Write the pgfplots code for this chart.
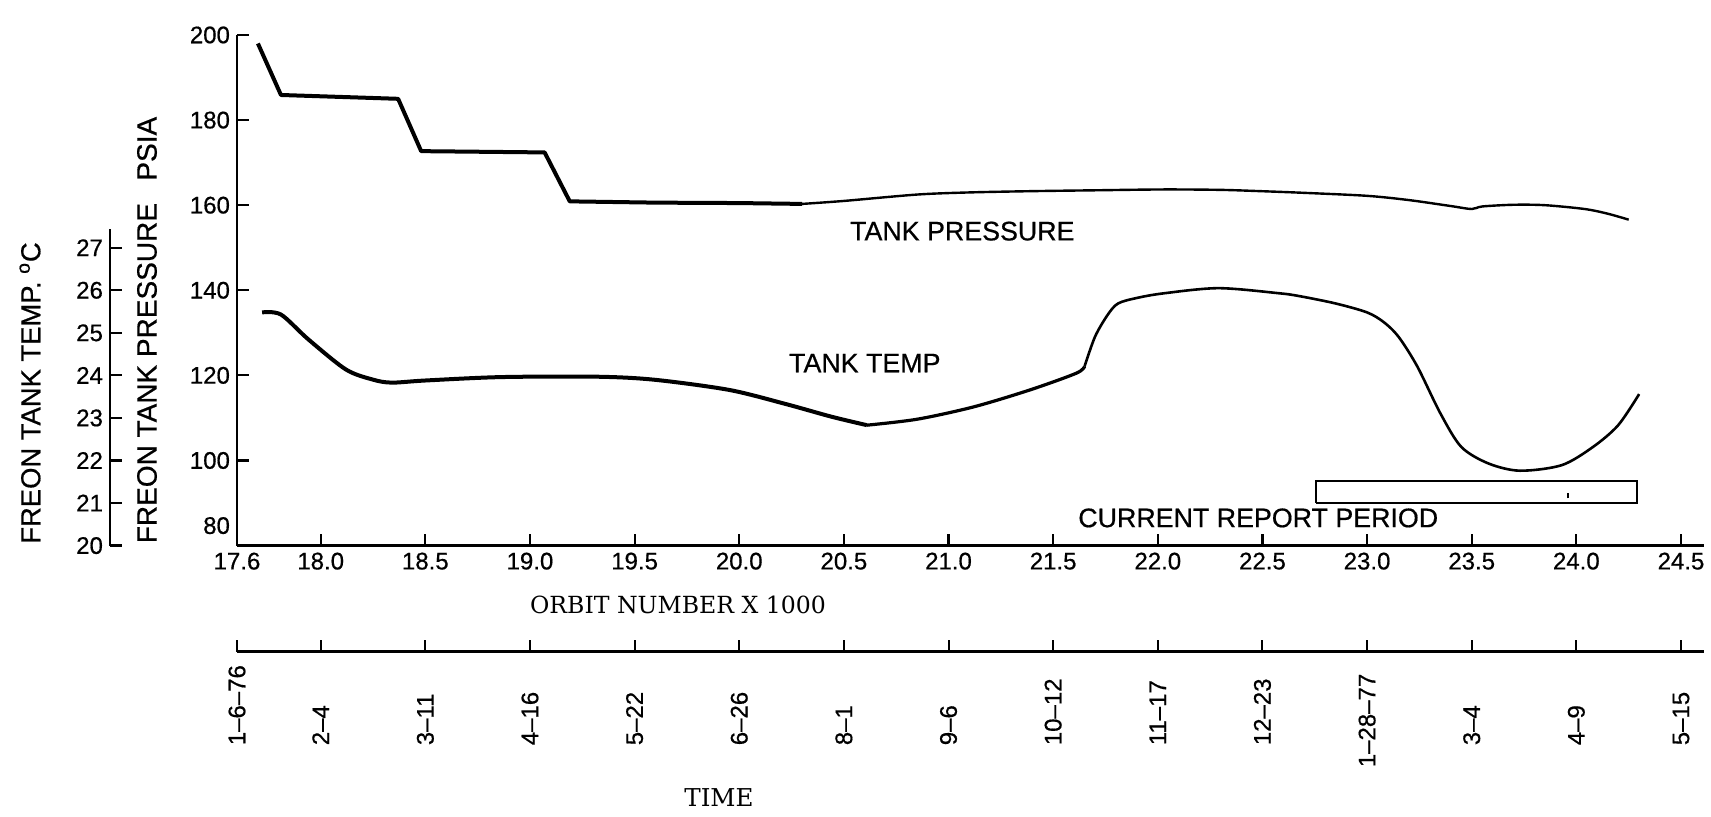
\documentclass[border=0pt]{standalone}
\usepackage{pgfplots}
\pgfplotsset{compat=1.18}
\usepackage{fontspec}
\setmainfont{Liberation Sans}[FakeBold=0.6]
\newfontfamily\slabfont{DejaVu Serif}
\newcommand{\tk}{\fontsize{12}{14}\selectfont}
\newcommand{\lb}{\fontsize{13.4}{16}\selectfont}
\begin{document}
\begin{tikzpicture}
\useasboundingbox (-118.5pt,-135.7pt) rectangle (737pt,272.8pt);
% main axis: orbit vs pressure
\begin{axis}[
  at={(0pt,0pt)}, anchor=south west,
  scale only axis, width=733.5pt, height=255.3pt,
  xmin=17.6, xmax=24.61, ymin=80, ymax=200,
  axis x line=bottom, axis y line=left,
  axis line style={-, line width=1.3pt, black},
  tick align=inside, major tick length=6pt,
  every tick/.style={black, line width=1.1pt},
  xtick={17.6,18,18.5,19,19.5,20,20.5,21,21.5,22,22.5,23,23.5,24,24.5},
  xticklabels={17.6,18.0,18.5,19.0,19.5,20.0,20.5,21.0,21.5,22.0,22.5,23.0,23.5,24.0,24.5},
  ytick={100,120,140,160,180,200},
  yticklabels={100,120,140,160,180,200},
  extra y ticks={80}, extra y tick labels={80},
  extra y tick style={yticklabel style={yshift=10pt}},
  ticklabel style={font=\tk},
  clip=false,
]
% tank pressure, stepped part
\addplot[black, line width=2pt, line join=round] coordinates {
(17.70,198.0) (17.81,185.9) (18.37,185.0) (18.48,172.7) (19.07,172.4)
(19.19,160.9) (19.6,160.6) (20.0,160.5) (20.3,160.3)};
% tank pressure, later part
\addplot[black, line width=1.2pt, smooth] coordinates {
(20.3,160.3) (20.5,161.0) (20.85,162.5) (21.1,163.0) (21.4,163.3) (21.7,163.5)
(22.03,163.7) (22.3,163.6) (22.49,163.3) (22.7,162.9) (23.0,162.2) (23.2,161.2)
(23.4,159.8) (23.5,159.1) (23.55,159.7) (23.7,160.1) (23.85,160.0) (24.04,159.1)
(24.15,158.0) (24.25,156.6)};
% tank temperature (plotted on pressure scale: 10 psia per deg C)
\addplot[black, line width=2pt, smooth] coordinates {
(17.72,134.8) (17.81,134.3) (17.94,128.5) (18.12,121.4) (18.25,119.0) (18.34,118.3)
(18.5,118.8) (18.86,119.6) (19.31,119.7) (19.59,119.0) (19.95,116.6) (20.22,113.3)
(20.44,110.3) (20.61,108.3)};
\addplot[black, line width=1.6pt, smooth] coordinates {
(20.61,108.3) (20.85,109.7) (21.12,112.6) (21.39,116.6) (21.61,120.5) (21.65,122.1)};
\addplot[black, line width=1.3pt, smooth] coordinates {
(21.65,122.1) (21.70,129.1) (21.76,134.2) (21.81,136.9) (21.9,138.2) (22.03,139.3)
(22.29,140.5) (22.58,139.3) (22.68,138.6) (22.85,136.9) (23.0,134.8) (23.08,132.5)
(23.15,129.1) (23.24,122.1) (23.35,111.1) (23.45,103.2) (23.58,99.3) (23.73,97.6)
(23.93,98.9) (24.08,103.2) (24.20,108.3) (24.30,115.6)};
% current report period box
\addplot[black, line width=1.1pt] coordinates {
(22.755,90.0) (24.29,90.0) (24.29,95.2) (22.755,95.2) (22.755,90.0)};
\addplot[black, line width=0.7pt] coordinates {(23.96,91.1) (23.96,92.4)};
\node[font=\lb] at (axis cs:21.066,153.9) {TANK PRESSURE};
\node[font=\lb] at (axis cs:20.60,122.9) {TANK TEMP};
\node[font=\lb] at (axis cs:22.48,86.5) {CURRENT REPORT PERIOD};
\end{axis}
% temperature scale
\begin{axis}[
  at={(-63.5pt,0pt)}, anchor=south west,
  scale only axis, width=10pt, height=158.5pt,
  xmin=0, xmax=1, ymin=20, ymax=27.45,
  axis y line=left, axis x line=none,
  axis line style={-, line width=1.3pt, black},
  tick align=inside, major tick length=6pt,
  every tick/.style={black, line width=1.1pt},
  ytick={20,21,22,23,24,25,26,27},
  yticklabels={20,21,22,23,24,25,26,27},
  ticklabel style={font=\tk},
]
\end{axis}
% time scale
\begin{axis}[
  at={(0pt,-53pt)}, anchor=south west,
  scale only axis, width=733.5pt, height=10pt,
  xmin=17.6, xmax=24.61, ymin=0, ymax=1,
  axis x line=bottom, axis y line=none,
  axis line style={-, line width=1.2pt, black},
  tick align=inside, major tick length=6pt,
  every tick/.style={black, line width=1.0pt},
  xtick={17.6,18,18.5,19,19.5,20,20.5,21,21.5,22,22.5,23,23.5,24,24.5},
  xticklabels={1--6--76,2--4,3--11,4--16,5--22,6--26,8--1,9--6,10--12,11--17,12--23,\hspace*{-11pt}1--28--77,3--4,4--9,5--15},
  xticklabel style={font=\tk, rotate=90, anchor=west, inner sep=0pt},
  xticklabel shift=47pt,
]
\end{axis}
\node[font=\fontsize{13.7}{16}\selectfont, rotate=90] at (-103.5pt,76.3pt) {FREON TANK TEMP. \textsuperscript{o}C};
\node[font=\fontsize{14}{16}\selectfont, rotate=90] at (-45pt,107.8pt) {FREON TANK PRESSURE\hspace{0.8em}PSIA};
\node[font=\slabfont\fontsize{11.8}{14}\selectfont] at (220.5pt,-29.5pt) {ORBIT NUMBER X 1000};
\node[font=\slabfont\fontsize{12.3}{14}\selectfont] at (241pt,-126pt) {TIME};
\end{tikzpicture}
\end{document}
